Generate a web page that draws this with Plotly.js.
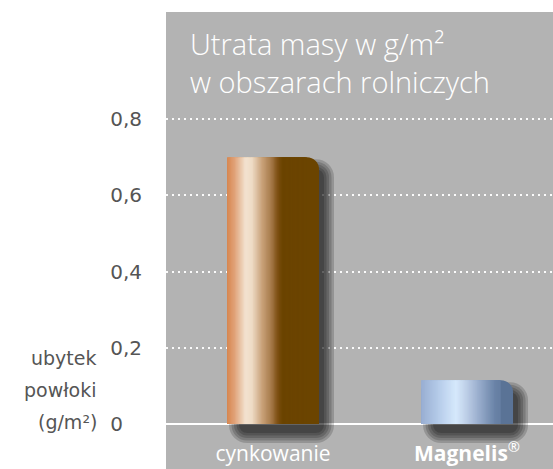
<!DOCTYPE html>
<html>
<head>
<meta charset="utf-8">
<script src="https://cdn.plot.ly/plotly-3.0.1.min.js"></script>
<style>html,body{margin:0;padding:0;background:#fff;}#chart{width:553px;height:469px;}</style>
</head>
<body>
<div id="chart"></div>
<script>
// ---- data ----
const categories = ['cynkowanie', 'Magnelis®'];
const values = [0.70, 0.115];
const xTickText = ['cynkowanie', '<b>Magnelis</b><sup>®</sup>'];
const yTickVals = [0, 0.2, 0.4, 0.6, 0.8];
const yTickText = ['0\u2008\u2007', '0,2', '0,4', '0,6', '0,8'];
const titleLines = ['Utrata masy w g/m²', 'w obszarach rolniczych'];
const yLabelLines = ['ubytek', 'powłoki', '(g/m²)'];

// ---- style ----
const W = 553, H = 469;
const M = {l: 166, r: 0, t: 12, b: 0};
const xRange = [-0.5515, 1.443];
const yRange = [-0.118, 1.081];
const pxX = (xRange[1] - xRange[0]) / (W - M.l - M.r);
const pxY = (yRange[1] - yRange[0]) / (H - M.t - M.b);
const barW = 92 * pxX;

const gradStops = [
  [[0, '#d7874f'], [0.08, '#e0a177'], [0.2, '#f2e2d0'], [0.27, '#efdcc6'], [0.38, '#c9a27a'], [0.48, '#a67a4a'], [0.55, '#7d4f12'], [0.6, '#6b4400'], [1, '#6b4400']],
  [[0, '#98aed2'], [0.2, '#b7cdea'], [0.38, '#d6e9fc'], [0.5, '#bccde6'], [0.65, '#93a8c8'], [0.8, '#6b84a8'], [1, '#546c8f']]
];
const baseColors = ['#6b4400', '#5a7396'];

function hex2rgb(h) { return [1, 3, 5].map(i => parseInt(h.substr(i, 2), 16)); }
function colorAt(stops, t) {
  for (let i = 0; i < stops.length - 1; i++) {
    const [t0, c0] = stops[i], [t1, c1] = stops[i + 1];
    if (t >= t0 && t <= t1) {
      const f = (t - t0) / (t1 - t0 || 1);
      const a = hex2rgb(c0), b = hex2rgb(c1);
      return 'rgb(' + a.map((v, k) => Math.round(v + (b[k] - v) * f)).join(',') + ')';
    }
  }
  return stops[stops.length - 1][1];
}

const traces = [];
// soft shadows
for (let k = 0; k < 5; k++) {
  const grow = 2.5 * k;
  const left = -barW / 2 + (12 - grow) * pxX;
  const right = barW / 2 + (5 + grow) * pxX;
  const base = -(9 + grow) * pxY;
  traces.push({
    type: 'bar', x: categories,
    y: values.map(v => (v - (12 - grow) * pxY) - base),
    base: base, offset: left, width: right - left,
    marker: {color: 'rgba(0,0,0,0.17)', line: {width: 0}, cornerradius: 8 + grow},
    hoverinfo: 'skip'
  });
}
// base bars with rounded top-right corner
traces.push({
  type: 'bar', x: categories, y: values, offset: -barW / 2, width: barW,
  marker: {color: baseColors, line: {width: 0}, cornerradius: 12},
  hoverinfo: 'skip'
});
// gradient strips
const N = 60, cover = 0.85;
for (let i = 0; i < N; i++) {
  const t0 = cover * i / N;
  const tm = cover * (i + 0.5) / N;
  traces.push({
    type: 'bar', x: categories, y: values,
    offset: -barW / 2 + t0 * barW, width: barW * cover / N + 1.5 * pxX,
    marker: {color: gradStops.map(s => colorAt(s, tm)), line: {width: 0}},
    hoverinfo: 'skip'
  });
}

const fontFam = '"Open Sans", "Noto Sans", sans-serif';
const axFam = '"DejaVu Sans", "Open Sans", sans-serif';
const plotH = H - M.t - M.b;
const annotations = yLabelLines.map((t, i) => ({
  text: t, xref: 'paper', yref: 'paper',
  x: (99 - M.l) / (W - M.l - M.r), xanchor: 'right',
  y: (H - M.b - (358 + 32 * i)) / plotH, yanchor: 'middle',
  showarrow: false, align: 'right',
  font: {family: axFam, size: 19, color: '#555555'}
}));

const layout = {
  width: W, height: H, margin: M,
  paper_bgcolor: '#ffffff', plot_bgcolor: '#b3b3b3',
  barmode: 'overlay', showlegend: false,
  title: {
    text: titleLines.join('<br>'),
    xref: 'container', yref: 'container',
    x: 190 / W, xanchor: 'left', y: 1 - 55 / H, yanchor: 'middle',
    font: {family: fontFam, size: 29, color: '#ffffff', weight: 300}
  },
  xaxis: {
    type: 'category', range: xRange, fixedrange: true,
    tickvals: categories, ticktext: xTickText,
    showgrid: false, zeroline: false, showline: false, ticks: '',
    anchor: 'free', position: (H - 439) / plotH,
    tickfont: {family: fontFam, size: 21, color: '#ffffff'}
  },
  yaxis: {
    range: yRange, fixedrange: true,
    tickmode: 'array', tickvals: yTickVals, ticktext: yTickText,
    showgrid: true, gridcolor: 'rgba(255,255,255,0.95)', gridwidth: 2, griddash: '2px,4px',
    zeroline: true, zerolinecolor: '#ffffff', zerolinewidth: 2,
    showline: false, ticks: '', ticklabelstandoff: 23,
    tickfont: {family: axFam, size: 20, color: '#555555'}
  },
  annotations: annotations
};

Plotly.newPlot('chart', traces, layout, {staticPlot: true, displayModeBar: false});
</script>
</body>
</html>
